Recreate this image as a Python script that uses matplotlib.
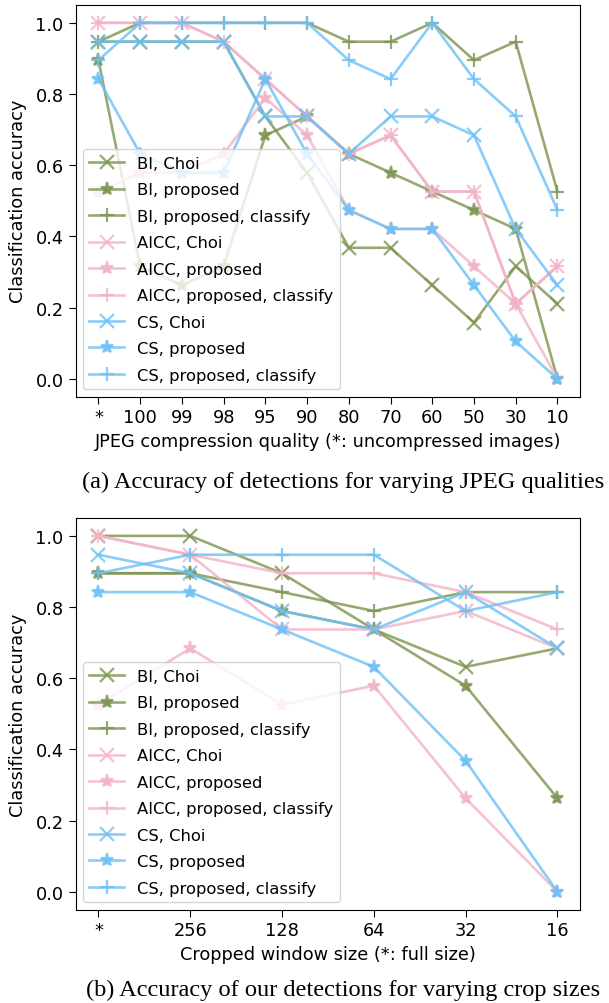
import matplotlib
matplotlib.use("Agg")
import matplotlib.pyplot as plt

# ---------------- data ----------------
jpeg_labels = ['*', '100', '99', '98', '95', '90', '80', '70', '60', '50', '30', '10']
jpeg_bi_choi = [0.947, 0.947, 0.947, 0.947, 0.737, 0.579, 0.368, 0.368, 0.263, 0.158, 0.316, 0.211]
jpeg_bi_prop = [0.895, 0.316, 0.263, 0.316, 0.684, 0.737, 0.632, 0.579, 0.526, 0.474, 0.421, 0.0]
jpeg_bi_cls = [0.947, 1.0, 1.0, 1.0, 1.0, 1.0, 0.947, 0.947, 1.0, 0.895, 0.947, 0.526]
jpeg_aicc_choi = [1.0, 1.0, 1.0, 0.947, 0.842, 0.737, 0.632, 0.684, 0.526, 0.526, 0.211, 0.316]
jpeg_aicc_prop = [0.526, 0.579, 0.579, 0.632, 0.789, 0.684, 0.474, 0.421, 0.421, 0.316, 0.211, 0.0]
jpeg_aicc_cls = [1.0, 1.0, 1.0, 0.947, 0.842, 0.737, 0.632, 0.684, 0.526, 0.526, 0.211, 0.316]
jpeg_cs_choi = [0.947, 0.947, 0.947, 0.947, 0.737, 0.737, 0.632, 0.737, 0.737, 0.684, 0.421, 0.263]
jpeg_cs_prop = [0.842, 0.632, 0.579, 0.579, 0.842, 0.632, 0.474, 0.421, 0.421, 0.263, 0.105, 0.0]
jpeg_cs_cls = [0.895, 1.0, 1.0, 1.0, 1.0, 1.0, 0.895, 0.842, 1.0, 0.842, 0.737, 0.474]

crop_labels = ['*', '256', '128', '64', '32', '16']
crop_bi_choi = [1.0, 1.0, 0.895, 0.737, 0.632, 0.684]
crop_bi_prop = [0.895, 0.895, 0.789, 0.737, 0.579, 0.263]
crop_bi_cls = [0.895, 0.895, 0.842, 0.789, 0.842, 0.842]
crop_aicc_choi = [1.0, 0.947, 0.737, 0.737, 0.789, 0.684]
crop_aicc_prop = [0.526, 0.684, 0.526, 0.579, 0.263, 0.0]
crop_aicc_cls = [1.0, 0.947, 0.895, 0.895, 0.842, 0.737]
crop_cs_choi = [0.947, 0.895, 0.789, 0.737, 0.842, 0.684]
crop_cs_prop = [0.842, 0.842, 0.737, 0.632, 0.368, 0.0]
crop_cs_cls = [0.895, 0.947, 0.947, 0.947, 0.789, 0.842]

series_names = ['BI, Choi', 'BI, proposed', 'BI, proposed, classify',
                'AICC, Choi', 'AICC, proposed', 'AICC, proposed, classify',
                'CS, Choi', 'CS, proposed', 'CS, proposed, classify']

# ---------------- style ----------------
C_BI = '#7d9450'
C_AICC = '#f2b3c6'
C_CS = '#6cc0f7'
colors = [C_BI] * 3 + [C_AICC] * 3 + [C_CS] * 3
markers = ['x', '*', '+'] * 3
ALPHA = 0.8
FS = 12.8
LFS = 11.8

plt.rcParams['font.family'] = ['DejaVu Sans']

fig = plt.figure(figsize=(6.09, 10.04), dpi=100)
ax1 = fig.add_axes([0.124, 0.604, 0.829, 0.390])
ax2 = fig.add_axes([0.124, 0.093, 0.829, 0.390])

def draw(ax, labels, data, xlabel):
    xs = list(range(len(labels)))
    for name, ys, c, m in zip(series_names, data, colors, markers):
        ax.plot(xs, ys, color=c, marker=m, markersize=9.5, linewidth=1.9,
                markeredgewidth=1.6, alpha=ALPHA, label=name)
    ax.set_xticks(xs)
    ax.set_xticklabels(labels)
    ax.set_ylim(-0.05, 1.05)
    ax.set_yticks([0.0, 0.2, 0.4, 0.6, 0.8, 1.0])
    ax.tick_params(labelsize=FS, length=5)
    ax.set_xlabel(xlabel, fontsize=FS, labelpad=4)
    ax.set_ylabel('Classification accuracy', fontsize=FS, labelpad=6)
    ax.legend(loc='lower left', fontsize=LFS, borderaxespad=0.45,
              labelspacing=0.7, handlelength=2.1)

draw(ax1, jpeg_labels,
     [jpeg_bi_choi, jpeg_bi_prop, jpeg_bi_cls, jpeg_aicc_choi, jpeg_aicc_prop,
      jpeg_aicc_cls, jpeg_cs_choi, jpeg_cs_prop, jpeg_cs_cls],
     'JPEG compression quality (*: uncompressed images)')
draw(ax2, crop_labels,
     [crop_bi_choi, crop_bi_prop, crop_bi_cls, crop_aicc_choi, crop_aicc_prop,
      crop_aicc_cls, crop_cs_choi, crop_cs_prop, crop_cs_cls],
     'Cropped window size (*: full size)')

fig.text(0.563, 0.520, '(a) Accuracy of detections for varying JPEG qualities',
         ha='center', va='center', fontsize=17.6, family='Liberation Serif')
fig.text(0.563, 0.014, '(b) Accuracy of our detections for varying crop sizes',
         ha='center', va='center', fontsize=17.6, family='Liberation Serif')

fig.savefig('out.png', dpi=100)
